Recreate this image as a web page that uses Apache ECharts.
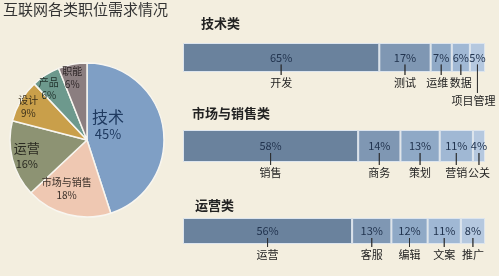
<!DOCTYPE html>
<html>
<head>
<meta charset="utf-8">
<script src="https://cdn.jsdelivr.net/npm/echarts@6/dist/echarts.min.js"></script>
<style>
html,body{margin:0;padding:0;background:#f3eedf}
#chart{width:499px;height:276px}
</style>
</head>
<body>
<div id="chart"></div>
<script>
const chartTitle = '互联网各类职位需求情况'
const pieNames = ['技术', '市场与销售', '运营', '设计', '产品', '职能']
const pieValues = [45, 18, 16, 9, 6, 6]
const groupTitles = ['技术类', '市场与销售类', '运营类']
const techNames = ['开发', '测试', '运维', '数据', '项目管理']
const techValues = [65, 17, 7, 6, 5]
const salesNames = ['销售', '商务', '策划', '营销', '公关']
const salesValues = [58, 14, 13, 11, 4]
const opsNames = ['运营', '客服', '编辑', '文案', '推广']
const opsValues = [56, 13, 12, 11, 8]

const font = '"Noto Sans CJK SC", "Noto Sans", sans-serif'
const pieColors = ['#7f9fc5', '#efc8b2', '#8d9373', '#c99f4a', '#6d998d', '#8b7e80']
const barColors = ['#6a829d', '#7f97b3', '#8fa9c6', '#a0b8d4', '#b5c8df']

// per slice label style / nudge
const pieLabel = [
  {offset: [-20, -9], big: 16, small: 13, color: '#1f3a60'},
  {offset: [-10, 9], big: 10, small: 10, color: '#3a2f28'},
  {offset: [-20, 5], big: 13, small: 11, color: '#2b2b22'},
  {offset: [-23, -12], big: 10, small: 10, color: '#3a2f1a'},
  {offset: [-16, -16], big: 10, small: 10, color: '#1f2f2a'},
  {offset: [-7, -22], big: 10, small: 10, color: '#2e2627'}
]

const groups = [
  {names: techNames, values: techValues, top: 43, h: 29, titleX: 201, titleY: 17},
  {names: salesNames, values: salesValues, top: 130, h: 32, titleX: 192, titleY: 107},
  {names: opsNames, values: opsValues, top: 218, h: 26, titleX: 195, titleY: 199}
]
// name shift (px, negative = left) and extra tick length for crowded labels
const nameShift = {'运维': -4, '项目管理': -4}
const extraTick = {'项目管理': 18}

const grids = [], xAxes = [], yAxes = [], series = []

series.push({
  type: 'pie',
  center: [87, 140],
  radius: 77,
  startAngle: 90,
  clockwise: true,
  silent: true,
  itemStyle: {borderColor: '#f8f6f0', borderWidth: 1.5},
  label: {show: true, position: 'inside'},
  data: pieNames.map((n, i) => ({
    name: n,
    value: pieValues[i],
    itemStyle: {color: pieColors[i]},
    label: {
      offset: pieLabel[i].offset,
      formatter: '{a|{b}}\n{b|{c}%}',
      rich: {
        a: {fontSize: pieLabel[i].big, color: pieLabel[i].color, fontFamily: font, lineHeight: pieLabel[i].big + 3, align: 'center'},
        b: {fontSize: pieLabel[i].small, color: pieLabel[i].color, fontFamily: font, lineHeight: pieLabel[i].small + 3, align: 'center'}
      }
    }
  }))
})

groups.forEach((g, gi) => {
  grids.push({left: 183, right: 14, top: g.top, height: g.h})
  xAxes.push({type: 'value', gridIndex: gi, min: 0, max: 100, show: false})
  yAxes.push({type: 'category', gridIndex: gi, data: [''], show: false})
  g.values.forEach((v, k) => {
    const nm = g.names[k]
    const tickH = g.h / 2 - 4 + (extraTick[nm] || 0)
    const shift = nameShift[nm] || 0
    series.push({
      type: 'bar',
      name: nm,
      xAxisIndex: gi,
      yAxisIndex: gi,
      stack: 's' + gi,
      barWidth: '100%',
      silent: true,
      data: [v],
      itemStyle: {color: barColors[k], borderColor: '#dde5ee', borderWidth: 1},
      label: {
        show: true,
        position: ['50%', g.h / 2 - 7],
        align: 'center',
        verticalAlign: 'top',
        formatter: '{p|{c}%}\n{t|}\n{n|{a}}',
        rich: {
          p: {fontSize: 11, color: '#22344f', fontFamily: font, lineHeight: 14, align: 'center'},
          t: {width: 0, height: tickH, borderColor: '#2a2a2a', borderWidth: 0.8, align: 'center'},
          n: {fontSize: 11, color: '#222', fontFamily: font, lineHeight: 16, align: 'center',
            padding: shift < 0 ? [0, -2 * shift, 0, 0] : [0, 0, 0, 2 * shift]}
        }
      }
    })
  })
})

const graphics = [{
  type: 'text', left: 3, top: 2,
  style: {text: chartTitle, fontSize: 15, fill: '#333', fontFamily: font}
}]
groups.forEach((g, gi) => {
  graphics.push({
    type: 'text', left: g.titleX, top: g.titleY,
    style: {text: groupTitles[gi], fontSize: 13, fontWeight: 'bold', fill: '#222', fontFamily: font}
  })
})

const chart = echarts.init(document.getElementById('chart'))
chart.setOption({
  backgroundColor: '#f3eedf',
  animation: false,
  grid: grids,
  xAxis: xAxes,
  yAxis: yAxes,
  graphic: graphics,
  series: series
})
</script>
</body>
</html>
